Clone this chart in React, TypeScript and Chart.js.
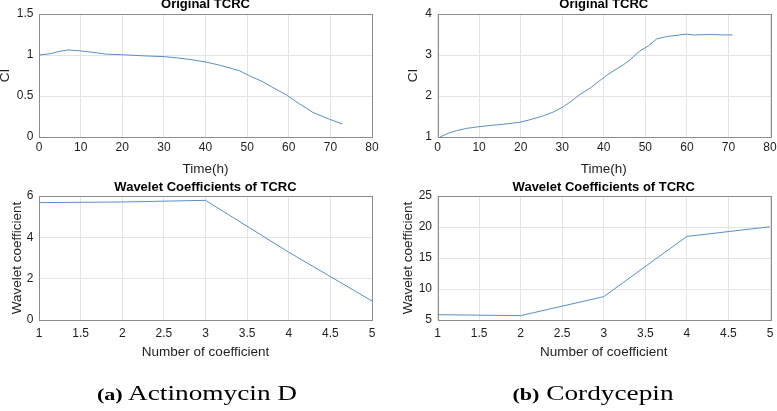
import React, { useEffect, useRef } from "react";
import { Chart, registerables } from "chart.js";

Chart.register(...registerables);

// ---- Data ----
const actTime = [0, 2.6, 5, 7, 9.8, 12.6, 16.2, 20.2, 25, 30, 33, 37, 40.2, 43.4, 46.6, 48.2, 50.6, 53.8, 56.2, 59.4, 62.6, 65.8, 69.8, 72.9];
const actCI = [1.0, 1.015, 1.045, 1.062, 1.05, 1.035, 1.01, 1.003, 0.99, 0.98, 0.966, 0.94, 0.913, 0.876, 0.83, 0.807, 0.746, 0.673, 0.603, 0.514, 0.404, 0.3, 0.216, 0.159];

const cordTime = [0.6, 2.6, 4.6, 7, 9.8, 12.6, 15.8, 19.8, 22.2, 25, 27.9, 30.3, 32.3, 34.3, 36.7, 39.1, 41.5, 44.7, 46.3, 48.7, 50.7, 52.7, 55.1, 58.3, 59.9, 61.6, 65.6, 68.8, 71];
const cordCI = [1.0, 1.09, 1.155, 1.21, 1.25, 1.28, 1.31, 1.36, 1.42, 1.5, 1.61, 1.74, 1.88, 2.04, 2.19, 2.38, 2.56, 2.76, 2.88, 3.1, 3.22, 3.39, 3.45, 3.49, 3.51, 3.49, 3.5, 3.49, 3.49];

const coefIndex = [1, 2, 3, 4, 5];
const actCoef = [5.68, 5.71, 5.79, 3.28, 0.92];
const cordCoef = [5.86, 5.7, 8.77, 18.48, 20.04];

const topTitle = "Original TCRC";
const bottomTitle = "Wavelet Coefficients of TCRC";
const timeLabel = "Time(h)";
const ciLabel = "CI";
const coefXLabel = "Number of coefficient";
const coefYLabel = "Wavelet coefficient";
const captionA = ["(a)", "Actinomycin D"];
const captionB = ["(b)", "Cordycepin"];

const SANS = "'Liberation Sans', Arial, Helvetica, sans-serif";
const SERIF = "'Liberation Serif', 'Times New Roman', serif";
const LINE = "#5a8fc8";
const GRID = "#e4e4e4";
const BOX = "#8c8c8c";
const TEXT = "#1e1e1e";

type Panel = {
  xs: number[];
  ys: number[];
  title: string;
  xTitle: string;
  yTitle: string;
  xMin: number; xMax: number; xStep: number;
  yMin: number; yMax: number; yStep: number;
  pad: { left: number; right: number; top: number; bottom: number };
  yW: number;
  xH: number;
  yTitlePad: number;
  xTitlePad: number;
  titlePadBottom: number;
  xTickPad: number;
};

const panels: Panel[] = [
  {
    xs: actTime, ys: actCI, title: topTitle, xTitle: timeLabel, yTitle: ciLabel,
    xMin: 0, xMax: 80, xStep: 10, yMin: 0, yMax: 1.5, yStep: 0.5,
    pad: { left: 0, right: 405, top: 0, bottom: 231 },
    yW: 39, xH: 43, yTitlePad: 0, xTitlePad: 3.5, titlePadBottom: 5, xTickPad: 3.3,
  },
  {
    xs: cordTime, ys: cordCI, title: topTitle, xTitle: timeLabel, yTitle: ciLabel,
    xMin: 0, xMax: 80, xStep: 10, yMin: 1, yMax: 4, yStep: 1,
    pad: { left: 408, right: 7, top: 0, bottom: 231 },
    yW: 29.5, xH: 43, yTitlePad: 0, xTitlePad: 3.5, titlePadBottom: 5, xTickPad: 3.3,
  },
  {
    xs: coefIndex, ys: actCoef, title: bottomTitle, xTitle: coefXLabel, yTitle: coefYLabel,
    xMin: 1, xMax: 5, xStep: 0.5, yMin: 0, yMax: 6, yStep: 2,
    pad: { left: 0, right: 405, top: 182.5, bottom: 49 },
    yW: 39, xH: 42, yTitlePad: 12, xTitlePad: 2.5, titlePadBottom: 4.5, xTickPad: 6.8,
  },
  {
    xs: coefIndex, ys: cordCoef, title: bottomTitle, xTitle: coefXLabel, yTitle: coefYLabel,
    xMin: 1, xMax: 5, xStep: 0.5, yMin: 5, yMax: 25, yStep: 5,
    pad: { left: 403, right: 7, top: 182.5, bottom: 49 },
    yW: 34.5, xH: 42, yTitlePad: 0, xTitlePad: 2.5, titlePadBottom: 4.5, xTickPad: 6.8,
  },
];

const fmt = (v: number | string) => String(Number(Number(v).toFixed(4)));

const boxPlugin = {
  id: "axesBox",
  afterDatasetsDraw(chart: any) {
    const { ctx, chartArea } = chart;
    ctx.save();
    ctx.strokeStyle = BOX;
    ctx.lineWidth = 1;
    ctx.strokeRect(
      Math.round(chartArea.left) + 0.5,
      Math.round(chartArea.top) + 0.5,
      Math.round(chartArea.right - chartArea.left),
      Math.round(chartArea.bottom - chartArea.top)
    );
    ctx.restore();
  },
};

function PanelChart({ p }: { p: Panel }) {
  const ref = useRef<HTMLCanvasElement | null>(null);
  useEffect(() => {
    if (!ref.current) return;
    const chart = new Chart(ref.current, {
      type: "line",
      data: {
        datasets: [
          {
            data: p.xs.map((x, i) => ({ x, y: p.ys[i] })),
            borderColor: LINE,
            borderWidth: 1,
            pointRadius: 0,
            tension: 0,
            fill: false,
          },
        ],
      },
      options: {
        animation: false,
        responsive: false,
        devicePixelRatio: 1,
        layout: { padding: p.pad },
        plugins: {
          legend: { display: false },
          tooltip: { enabled: false },
          title: {
            display: true,
            text: p.title,
            color: "#000",
            fullSize: false,
            font: { family: SANS, size: 13, weight: "bold", lineHeight: "9px" },
            padding: { top: 0, bottom: p.titlePadBottom },
          },
        },
        scales: {
          x: {
            type: "linear",
            min: p.xMin,
            max: p.xMax,
            grid: { color: GRID, drawTicks: false },
            border: { display: false },
            ticks: {
              stepSize: p.xStep,
              color: TEXT,
              padding: p.xTickPad,
              maxRotation: 0,
              autoSkip: false,
              callback: (v: number | string) => fmt(v),
              font: { family: SANS, size: 12, lineHeight: 1.2 },
            },
            title: {
              display: true,
              text: p.xTitle,
              color: TEXT,
              font: { family: SANS, size: 13.5, lineHeight: "15px" },
              padding: { top: 0, bottom: p.xTitlePad },
            },
            afterFit(scale: any) {
              scale.height = p.xH;
              scale.paddingLeft = 0;
              scale.paddingRight = 0;
            },
          },
          y: {
            type: "linear",
            min: p.yMin,
            max: p.yMax,
            grid: { color: GRID, drawTicks: false },
            border: { display: false },
            ticks: {
              stepSize: p.yStep,
              color: TEXT,
              padding: 5.5,
              autoSkip: false,
              callback: (v: number | string) => fmt(v),
              font: { family: SANS, size: 12 },
            },
            title: {
              display: true,
              text: p.yTitle,
              color: TEXT,
              font: { family: SANS, size: 13.5, lineHeight: "10px" },
              padding: { top: p.yTitlePad, bottom: 0 },
            },
            afterFit(scale: any) {
              scale.width = p.yW;
              scale.paddingTop = 0;
              scale.paddingBottom = 0;
            },
          },
        },
      },
      plugins: [boxPlugin],
    } as any);
    return () => chart.destroy();
  }, [p]);
  return (
    <canvas
      ref={ref}
      width={777}
      height={411}
      style={{ position: "absolute", left: 0, top: 0, width: 777, height: 411 }}
    />
  );
}

function Caption({ parts, left, width }: { parts: string[]; left: number; width: number }) {
  return (
    <div
      style={{
        position: "absolute",
        left,
        top: 383.4,
        width,
        textAlign: "center",
        fontFamily: SERIF,
        fontSize: 21,
        lineHeight: "20px",
        color: "#000",
        whiteSpace: "nowrap",
      }}
    >
      <span style={{ display: "inline-block", transform: "scaleX(1.3)" }}>
        <b style={{ fontSize: 17 }}>{parts[0]}</b> {parts[1]}
      </span>
    </div>
  );
}

export default function App() {
  return (
    <div
      style={{
        position: "absolute",
        left: 0,
        top: 0,
        width: 777,
        height: 411,
        background: "#fff",
        overflow: "hidden",
      }}
    >
      {panels.map((p, i) => (
        <PanelChart key={i} p={p} />
      ))}
      <Caption parts={captionA} left={0} width={394} />
      <Caption parts={captionB} left={396} width={394} />
    </div>
  );
}
